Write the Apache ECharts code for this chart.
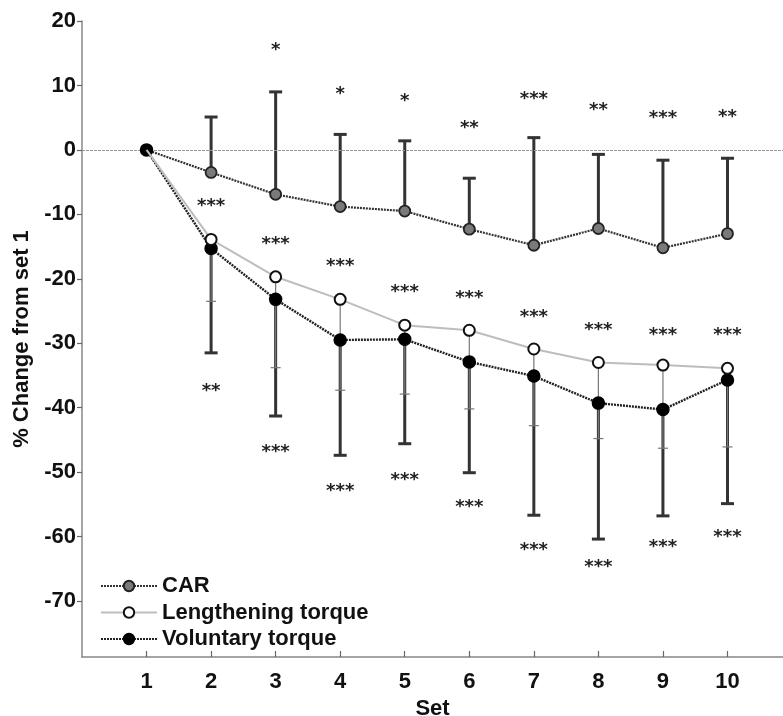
<!DOCTYPE html>
<html>
<head>
<meta charset="utf-8">
<script src="https://cdn.jsdelivr.net/npm/echarts@6/dist/echarts.min.js"></script>
<style>
html,body{margin:0;padding:0;background:#fff;}
#chart{width:783px;height:716px;}
</style>
</head>
<body>
<div id="chart"></div>
<script>
// ---- data ----
const sets = [1, 2, 3, 4, 5, 6, 7, 8, 9, 10];
const yTicks = [20, 10, 0, -10, -20, -30, -40, -50, -60, -70];

const carMean  = [0, -3.5, -6.9, -8.8, -9.5, -12.3, -14.8, -12.2, -15.2, -13.0];
const carUpper = [null, 5.1, 9.0, 2.4, 1.4, -4.4, 1.9, -0.7, -1.6, -1.3];

const lenMean  = [0, -13.9, -19.7, -23.2, -27.2, -28.0, -30.9, -33.0, -33.4, -33.9];
const lenLower = [null, -23.5, -33.8, -37.3, -37.9, -40.2, -42.8, -44.8, -46.3, -46.1];

const volMean  = [0, -15.3, -23.2, -29.5, -29.4, -32.9, -35.1, -39.3, -40.3, -35.7];
const volLower = [null, -31.5, -41.3, -47.4, -45.6, -50.1, -56.7, -60.4, -56.8, -54.9];

// significance markers (text and the value at which they are printed)
const carSigText = ['', '', '*', '*', '*', '**', '***', '**', '***', '**'];
const carSigPos  = [null, null, 16.0, 9.3, 8.2, 3.9, 8.4, 6.8, 5.5, 5.6];
const lenSigText = ['', '***', '***', '***', '***', '***', '***', '***', '***', '***'];
const lenSigPos  = [null, -8.2, -14.0, -17.5, -21.5, -22.4, -25.3, -27.4, -28.1, -28.2];
const volSigText = ['', '**', '***', '***', '***', '***', '***', '***', '***', '***'];
const volSigPos  = [null, -36.8, -46.3, -52.3, -50.6, -54.8, -61.6, -64.2, -61.1, -59.5];

const seriesNames = ['CAR', 'Lengthening torque', 'Voluntary torque'];
const xName = 'Set';
const yName = '% Change from set 1';

// ---- chart ----
const FONT = "'Liberation Sans', Arial, Helvetica, sans-serif";
const chart = echarts.init(document.getElementById('chart'), null, {renderer: 'canvas'});

function errData(means, bounds) {
  const out = [];
  sets.forEach((s, i) => { if (bounds[i] != null) out.push([s, means[i], bounds[i]]); });
  return out;
}
function errSeries(means, bounds, color, width, capHalf, capWidth, z) {
  return {
    type: 'custom', silent: true, z: z,
    data: errData(means, bounds),
    renderItem: function (params, api) {
      const p0 = api.coord([api.value(0), api.value(1)]);
      const p1 = api.coord([api.value(0), api.value(2)]);
      return {
        type: 'group',
        children: [
          {type: 'line', shape: {x1: p0[0], y1: p0[1], x2: p1[0], y2: p1[1]},
           style: {stroke: color, lineWidth: width}},
          {type: 'line', shape: {x1: p1[0] - capHalf, y1: p1[1], x2: p1[0] + capHalf, y2: p1[1]},
           style: {stroke: color, lineWidth: capWidth}}
        ]
      };
    }
  };
}
function sigSeries(texts, pos) {
  const data = [], labels = [];
  sets.forEach((s, i) => { if (pos[i] != null) { data.push([s, pos[i]]); labels.push(texts[i]); } });
  return {
    type: 'custom', silent: true, z: 10,
    data: data,
    renderItem: function (params, api) {
      const p = api.coord([api.value(0), api.value(1)]);
      return {
        type: 'text', x: p[0], y: p[1] + 4,
        style: {
          text: labels[params.dataIndex],
          fontFamily: "'DejaVu Sans', sans-serif",
          fontWeight: 'bold',
          fontSize: 18,
          fill: '#222',
          align: 'center',
          verticalAlign: 'middle'
        }
      };
    }
  };
}
function lineData(means, hideFirst) {
  return sets.map((s, i) => (hideFirst && i === 0) ? {value: [s, means[i]], symbol: 'none'} : [s, means[i]]);
}

const option = {
  animation: false,
  backgroundColor: '#fff',
  grid: {left: 82, right: 0, top: 21, bottom: 59, containLabel: false, outerBoundsMode: 'none'},
  legend: {
    orient: 'vertical', left: 95, top: 570, itemGap: 4.5,
    itemWidth: 56, itemHeight: 13,
    textStyle: {fontFamily: FONT, fontWeight: 'bold', fontSize: 22, color: '#111'},
    data: seriesNames
  },
  xAxis: {
    type: 'value', min: 0, max: 10.86,
    name: xName, nameLocation: 'middle', nameGap: 37,
    nameTextStyle: {fontFamily: FONT, fontWeight: 'bold', fontSize: 22, color: '#111'},
    axisLine: {show: true, onZero: false, lineStyle: {color: '#888', width: 1.5}},
    axisTick: {show: true, inside: true, length: 6, customValues: sets, lineStyle: {color: '#666', width: 1.2}},
    axisLabel: {show: true, margin: 14, customValues: sets,
      fontFamily: FONT, fontWeight: 'bold', fontSize: 22, color: '#111'},
    splitLine: {show: false}
  },
  yAxis: {
    type: 'value', min: -78.7, max: 20,
    name: yName, nameLocation: 'middle', nameGap: 46, nameRotate: 90,
    nameTextStyle: {fontFamily: FONT, fontWeight: 'bold', fontSize: 22, color: '#111'},
    axisLine: {show: true, onZero: false, lineStyle: {color: '#888', width: 1.5}},
    axisTick: {show: true, inside: false, length: 5, customValues: yTicks, lineStyle: {color: '#666', width: 1.2}},
    axisLabel: {show: true, margin: 6, customValues: yTicks,
      fontFamily: FONT, fontWeight: 'bold', fontSize: 22, color: '#111'},
    splitLine: {show: false}
  },
  series: [
    errSeries(carMean, carUpper, '#333', 3, 6.5, 3, 1),
    errSeries(volMean, volLower, '#333', 3, 6.5, 3, 1),
    errSeries(lenMean, lenLower, '#777', 1.2, 5, 1.2, 2),
    {
      name: seriesNames[0], type: 'line', z: 4,
      data: lineData(carMean, true),
      symbol: 'circle', symbolSize: 11, showSymbol: true,
      lineStyle: {color: '#333', width: 2.2, type: [2, 1]},
      itemStyle: {color: '#7a7a7a', borderColor: '#222', borderWidth: 1.8},
      markLine: {
        silent: true, symbol: 'none', label: {show: false},
        lineStyle: {color: '#999', width: 1, type: [3, 1]},
        data: [{yAxis: 0}]
      }
    },
    {
      name: seriesNames[2], type: 'line', z: 5,
      data: lineData(volMean, false),
      symbol: 'circle', symbolSize: 12, showSymbol: true,
      lineStyle: {color: '#222', width: 2.4, type: [2, 1]},
      itemStyle: {color: '#000', borderColor: '#000', borderWidth: 1.5}
    },
    {
      name: seriesNames[1], type: 'line', z: 6,
      data: lineData(lenMean, true),
      symbol: 'circle', symbolSize: 11, showSymbol: true,
      lineStyle: {color: '#bdbdbd', width: 2},
      itemStyle: {color: '#fff', borderColor: '#111', borderWidth: 2}
    },
    sigSeries(carSigText, carSigPos),
    sigSeries(lenSigText, lenSigPos),
    sigSeries(volSigText, volSigPos)
  ]
};
chart.setOption(option);
</script>
</body>
</html>
